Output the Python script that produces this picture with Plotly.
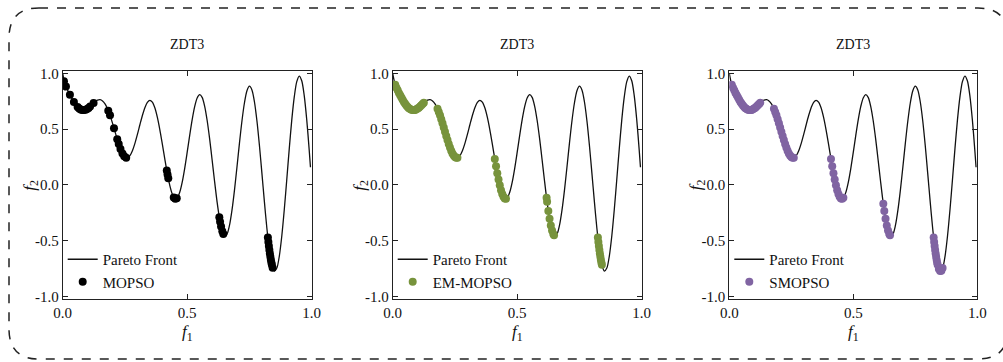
import plotly.graph_objects as go

# ---------------------------------------------------------------- data
# ZDT3 reference curve, f1 sampled on [0, 1]
front_f1 = [
    0.00, 0.01, 0.02, 0.03, 0.04, 0.05, 0.06, 0.07, 0.08, 0.09,
    0.10, 0.11, 0.12, 0.13, 0.14, 0.15, 0.16, 0.17, 0.18, 0.19,
    0.20, 0.21, 0.22, 0.23, 0.24, 0.25, 0.26, 0.27, 0.28, 0.29,
    0.30, 0.31, 0.32, 0.33, 0.34, 0.35, 0.36, 0.37, 0.38, 0.39,
    0.40, 0.41, 0.42, 0.43, 0.44, 0.45, 0.46, 0.47, 0.48, 0.49,
    0.50, 0.51, 0.52, 0.53, 0.54, 0.55, 0.56, 0.57, 0.58, 0.59,
    0.60, 0.61, 0.62, 0.63, 0.64, 0.65, 0.66, 0.67, 0.68, 0.69,
    0.70, 0.71, 0.72, 0.73, 0.74, 0.75, 0.76, 0.77, 0.78, 0.79,
    0.80, 0.81, 0.82, 0.83, 0.84, 0.85, 0.86, 0.87, 0.88, 0.89,
    0.90, 0.91, 0.92, 0.93, 0.94, 0.95, 0.96, 0.97, 0.98, 0.99,
    0.995,
]
front_f2 = [
    1.000, 0.897, 0.847, 0.802, 0.762, 0.726, 0.698, 0.679, 0.670, 0.672,
    0.684, 0.702, 0.724, 0.745, 0.759, 0.763, 0.752, 0.725, 0.682, 0.623,
    0.553, 0.477, 0.402, 0.334, 0.282, 0.250, 0.243, 0.262, 0.306, 0.372,
    0.452, 0.539, 0.622, 0.692, 0.740, 0.758, 0.742, 0.691, 0.607, 0.496,
    0.368, 0.233, 0.105, -0.004, -0.082, -0.121, -0.116, -0.066, 0.025, 0.149,
    0.293, 0.444, 0.585, 0.701, 0.779, 0.808, 0.784, 0.706, 0.579, 0.414,
    0.225, 0.031, -0.152, -0.303, -0.409, -0.456, -0.440, -0.361, -0.224, -0.044,
    0.163, 0.377, 0.575, 0.736, 0.844, 0.884, 0.851, 0.745, 0.575, 0.355,
    0.106, -0.150, -0.388, -0.583, -0.715, -0.772, -0.745, -0.637, -0.455, -0.218,
    0.051, 0.327, 0.582, 0.788, 0.925, 0.975, 0.933, 0.800, 0.586, 0.311,
    0.158,
]

# MOPSO non-dominated solutions
mopso_f1 = [
    0.005, 0.013, 0.029, 0.045, 0.060, 0.066, 0.072, 0.078, 0.085, 0.092,
    0.098, 0.104, 0.110, 0.124,
    0.183, 0.190, 0.206, 0.219, 0.225, 0.232, 0.240, 0.247, 0.255,
    0.418, 0.421, 0.424, 0.446, 0.452, 0.458,
    0.629, 0.632, 0.636, 0.641, 0.645,
    0.824, 0.826, 0.828, 0.830, 0.832, 0.834, 0.836, 0.838, 0.840, 0.843,
]
mopso_f2 = [
    0.928, 0.881, 0.807, 0.743, 0.698, 0.685, 0.676, 0.671, 0.670, 0.674,
    0.681, 0.690, 0.702, 0.733,
    0.665, 0.623, 0.507, 0.409, 0.367, 0.322, 0.282, 0.257, 0.243,
    0.130, 0.093, 0.059, -0.112, -0.123, -0.120,
    -0.290, -0.329, -0.373, -0.416, -0.440,
    -0.472, -0.511, -0.548, -0.583, -0.614, -0.644, -0.671, -0.695, -0.715, -0.741,
]

# EM-MOPSO non-dominated solutions
em_f1 = [
    0.010, 0.015, 0.020, 0.025, 0.030, 0.035, 0.040, 0.045, 0.050, 0.055,
    0.060, 0.065, 0.070, 0.075, 0.080, 0.085, 0.090, 0.095, 0.100, 0.105,
    0.110, 0.115, 0.120, 0.125,
    0.180, 0.185, 0.190, 0.195, 0.200, 0.205, 0.210, 0.215, 0.220, 0.225,
    0.230, 0.235, 0.240, 0.245, 0.250, 0.255, 0.260,
    0.410, 0.415, 0.420, 0.425, 0.430, 0.435, 0.440, 0.445, 0.450, 0.455,
    0.618, 0.620, 0.625, 0.630, 0.635, 0.640, 0.645, 0.648,
    0.824, 0.826, 0.828, 0.830, 0.832, 0.834, 0.836, 0.838, 0.840,
]
em_f2 = [
    0.897, 0.871, 0.847, 0.824, 0.802, 0.782, 0.762, 0.743, 0.726, 0.711,
    0.698, 0.687, 0.679, 0.673, 0.670, 0.670, 0.672, 0.677, 0.684, 0.692,
    0.702, 0.713, 0.724, 0.735,
    0.682, 0.654, 0.623, 0.589, 0.553, 0.515, 0.477, 0.439, 0.402, 0.367,
    0.334, 0.306, 0.282, 0.263, 0.250, 0.243, 0.243,
    0.233, 0.167, 0.105, 0.048, -0.004, -0.047, -0.082, -0.107, -0.121, -0.124,
    -0.116, -0.152, -0.233, -0.303, -0.363, -0.409, -0.440, -0.450,
    -0.472, -0.511, -0.548, -0.583, -0.614, -0.644, -0.671, -0.695, -0.715,
]

# SMOPSO non-dominated solutions
smopso_f1 = [
    0.010, 0.015, 0.020, 0.025, 0.030, 0.035, 0.040, 0.045, 0.050, 0.055,
    0.060, 0.065, 0.070, 0.075, 0.080, 0.085, 0.090, 0.095, 0.100, 0.105,
    0.110, 0.115, 0.120, 0.125,
    0.180, 0.185, 0.190, 0.195, 0.200, 0.205, 0.210, 0.215, 0.220, 0.225,
    0.230, 0.235, 0.240, 0.245, 0.250, 0.255, 0.260,
    0.410, 0.415, 0.420, 0.425, 0.430, 0.435, 0.440, 0.445, 0.450, 0.455, 0.460,
    0.621, 0.625, 0.630, 0.635, 0.640, 0.645, 0.648,
    0.824, 0.826, 0.828, 0.830, 0.832, 0.834, 0.836, 0.838, 0.840, 0.845,
    0.850, 0.855, 0.860,
]
smopso_f2 = [
    0.897, 0.871, 0.847, 0.824, 0.802, 0.782, 0.762, 0.743, 0.726, 0.711,
    0.698, 0.687, 0.679, 0.673, 0.670, 0.670, 0.672, 0.677, 0.684, 0.692,
    0.702, 0.713, 0.724, 0.735,
    0.682, 0.654, 0.623, 0.589, 0.553, 0.515, 0.477, 0.439, 0.402, 0.367,
    0.334, 0.306, 0.282, 0.263, 0.250, 0.243, 0.243,
    0.233, 0.167, 0.105, 0.048, -0.004, -0.047, -0.082, -0.107, -0.121, -0.124,
    -0.116,
    -0.168, -0.233, -0.303, -0.363, -0.409, -0.440, -0.450,
    -0.472, -0.511, -0.548, -0.583, -0.614, -0.644, -0.671, -0.695, -0.715, -0.754,
    -0.772, -0.769, -0.745,
]

panel_titles = ["ZDT3", "ZDT3", "ZDT3"]
algorithms = ["MOPSO", "EM-MOPSO", "SMOPSO"]
x_title = "<i>f</i><sub>1</sub>"
y_title = "<i>f</i><sub>2</sub>"
tick_vals_x = [0.0, 0.5, 1.0]
tick_text_x = ["0.0", "0.5", "1.0"]
tick_vals_y = [-1.0, -0.5, 0.0, 0.5, 1.0]
tick_text_y = ["-1.0", "-0.5", "0.0", "0.5", "1.0"]

# ---------------------------------------------------------------- layout
W, H = 1003, 362
FONT = "Liberation Serif"
TEXT = "#111111"
colors = ["#000000", "#77933C", "#8064A2"]
solutions = [(mopso_f1, mopso_f2), (em_f1, em_f2), (smopso_f1, smopso_f2)]

# plot boxes in pixels: (left, right), shared (top, bottom)
boxes_x = [(62.7, 311.7), (392.7, 641.7), (729.3, 977.3)]
box_top, box_bottom = 70.7, 299.0


def px_x(p):
    return p / W


def px_y(p):
    return 1 - p / H


def label(text, x, y, size, angle=0):
    return dict(
        text=text, x=px_x(x), y=px_y(y), xref="paper", yref="paper",
        xanchor="center", yanchor="middle", showarrow=False, textangle=angle,
        font=dict(family=FONT, size=size, color=TEXT),
    )


fig = go.Figure()
annotations = []

for i in range(3):
    n = "" if i == 0 else str(i + 1)
    xa, ya = "x" + n, "y" + n
    leg = "legend" + n

    fig.add_trace(go.Scatter(
        x=front_f1, y=front_f2, mode="lines", name="Pareto Front",
        line=dict(color=TEXT, width=1.3, shape="spline", smoothing=0.8),
        xaxis=xa, yaxis=ya, legend=leg,
    ))
    sx, sy = solutions[i]
    fig.add_trace(go.Scatter(
        x=sx, y=sy, mode="markers", name=algorithms[i],
        marker=dict(color=colors[i], size=8, line=dict(width=0)),
        xaxis=xa, yaxis=ya, legend=leg,
    ))

    left, right = boxes_x[i]
    axis_common = dict(
        showline=True, linecolor="#222222", linewidth=1, mirror="allticks",
        ticks="inside", ticklen=5, tickcolor="#222222", tickwidth=1,
        showgrid=False, zeroline=False, automargin=False,
        tickfont=dict(family=FONT, size=15, color=TEXT),
    )
    fig.update_layout(**{
        "xaxis" + n: dict(
            domain=[px_x(left), px_x(right)], range=[0, 1],
            tickvals=tick_vals_x, ticktext=tick_text_x,
            anchor=ya, **axis_common,
        ),
        "yaxis" + n: dict(
            domain=[px_y(box_bottom), px_y(box_top)], range=[-1.022, 1.023],
            tickvals=tick_vals_y, ticktext=tick_text_y,
            anchor=xa, **axis_common,
        ),
        leg: dict(
            x=px_x(left), y=px_y(243), xanchor="left", yanchor="top",
            bgcolor="rgba(0,0,0,0)", borderwidth=0, itemwidth=30,
            font=dict(family=FONT, size=15, color=TEXT),
        ),
    })

    centre = (left + right) / 2
    annotations.append(label(panel_titles[i], centre, 45, 14))
    annotations.append(label(x_title, centre, 333, 17))
    annotations.append(label(y_title, left - 32, 185, 17, angle=-90))

# dashed rounded frame around the three panels
fl, ft, fr, fb, r = 9.0, 8.0, 1008.0, 359.0, 30.0
frame_path = (
    f"M {px_x(fl + r)},{px_y(ft)} L {px_x(fr - r)},{px_y(ft)} "
    f"Q {px_x(fr)},{px_y(ft)} {px_x(fr)},{px_y(ft + r)} "
    f"L {px_x(fr)},{px_y(fb - r)} Q {px_x(fr)},{px_y(fb)} {px_x(fr - r)},{px_y(fb)} "
    f"L {px_x(fl + r)},{px_y(fb)} Q {px_x(fl)},{px_y(fb)} {px_x(fl)},{px_y(fb - r)} "
    f"L {px_x(fl)},{px_y(ft + r)} Q {px_x(fl)},{px_y(ft)} {px_x(fl + r)},{px_y(ft)} Z"
)

fig.update_layout(
    width=W, height=H,
    margin=dict(l=0, r=0, t=0, b=0, autoexpand=False),
    paper_bgcolor="white", plot_bgcolor="white",
    showlegend=True,
    annotations=annotations,
    shapes=[dict(type="path", path=frame_path, xref="paper", yref="paper",
                 line=dict(color="#222222", width=1.5, dash="dash"),
                 layer="below")],
)

fig.write_html("out.html")
